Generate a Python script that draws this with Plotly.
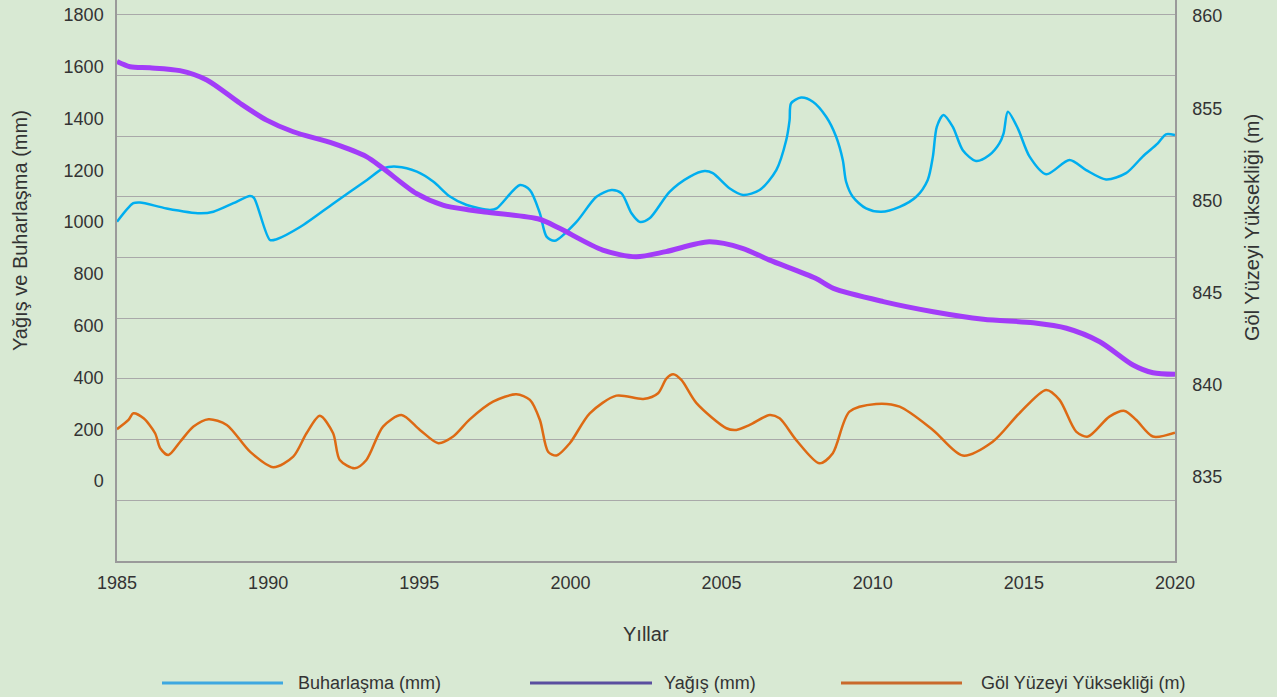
import plotly.graph_objects as go

# ---------------- data ----------------
evap_years = [1985.0, 1985.54, 1985.76, 1986.64, 1987.75, 1988.19, 1988.85, 1989.4, 1989.53,
              1990.06, 1990.28, 1991.07, 1992.17, 1993.27, 1993.82, 1994.26, 1994.92, 1995.47,
              1996.0, 1996.57, 1997.34, 1997.56, 1998.33, 1998.66, 1998.99, 1999.21, 1999.48,
              2000.2, 2000.86, 2001.36, 2001.69, 2002.02, 2002.29, 2002.62, 2003.28, 2003.94,
              2004.44, 2004.71, 2005.26, 2005.71, 2006.26, 2006.81, 2007.14, 2007.25, 2007.3,
              2007.63, 2008.02, 2008.46, 2008.79, 2009.01, 2009.12, 2009.34, 2009.78, 2010.28,
              2010.89, 2011.44, 2011.82, 2011.99, 2012.12, 2012.34, 2012.65, 2012.98, 2013.42,
              2013.86, 2014.19, 2014.33, 2014.47, 2014.8, 2015.19, 2015.74, 2016.51, 2017.06,
              2017.72, 2018.38, 2018.93, 2019.43, 2019.7, 2020.0]
evap_mm = [1001, 1073, 1076, 1053, 1034, 1040, 1073, 1101, 1094,
           931, 934, 982, 1073, 1163, 1208, 1214, 1195, 1156,
           1100, 1066, 1047, 1053, 1143, 1124, 1034, 944, 928,
           1001, 1098, 1124, 1111, 1034, 1001, 1015, 1117, 1175,
           1197, 1189, 1131, 1105, 1124, 1201, 1317, 1394, 1459,
           1481, 1465, 1407, 1330, 1240, 1156, 1098, 1053, 1040,
           1059, 1098, 1163, 1253, 1368, 1414, 1368, 1278, 1236,
           1259, 1304, 1343, 1426, 1362, 1253, 1185, 1240, 1201,
           1165, 1189, 1253, 1304, 1339, 1336]

rain_years = [1985.0, 1985.43, 1986.09, 1987.08, 1987.97, 1989.07, 1989.95, 1990.83, 1992.15,
              1993.25, 1993.8, 1994.9, 1995.78, 1996.66, 1997.1, 1998.98, 1999.64, 2001.07,
              2002.17, 2003.16, 2004.59, 2005.69, 2006.57, 2008.11, 2008.7, 2010.35, 2012.0,
              2013.66, 2015.31, 2016.41, 2017.51, 2018.61, 2019.27, 2020.0]
rain_mm = [1620, 1600, 1596, 1585, 1549, 1459, 1394, 1349, 1304,
           1253, 1208, 1111, 1066, 1047, 1040, 1011, 976, 892,
           866, 886, 924, 899, 854, 783, 744, 693, 654,
           625, 611, 590, 538, 448, 418, 412]

lake_years = [1985.0, 1985.38, 1985.54, 1985.88, 1986.26, 1986.43, 1986.7, 1987.09, 1987.53,
              1988.03, 1988.63, 1989.4, 1990.17, 1990.83, 1991.27, 1991.71, 1992.15, 1992.37,
              1992.87, 1993.25, 1993.8, 1994.41, 1995.02, 1995.63, 1996.12, 1996.67, 1997.44,
              1998.21, 1998.66, 1998.99, 1999.26, 1999.54, 1999.98, 2000.64, 2001.52, 2002.41,
              2002.9, 2003.18, 2003.4, 2003.67, 2004.17, 2005.16, 2005.49, 2005.93, 2006.59,
              2006.92, 2007.47, 2008.24, 2008.68, 2009.23, 2010.11, 2010.89, 2011.99, 2012.98,
              2013.97, 2014.85, 2015.74, 2016.18, 2016.73, 2017.12, 2017.83, 2018.33, 2018.72,
              2019.27, 2020.0]
lake_m = [837.59, 838.09, 838.45, 838.18, 837.37, 836.56, 836.19, 836.91, 837.73,
          838.13, 837.82, 836.37, 835.53, 836.10, 837.37, 838.32, 837.37, 835.92,
          835.47, 835.92, 837.73, 838.36, 837.55, 836.83, 837.19, 838.12, 839.08,
          839.48, 839.18, 838.09, 836.37, 836.16, 836.83, 838.45, 839.41, 839.23,
          839.54, 840.35, 840.57, 840.26, 839.00, 837.64, 837.55, 837.82, 838.36,
          838.18, 837.00, 835.74, 836.29, 838.54, 838.96, 838.81, 837.55, 836.16,
          836.91, 838.45, 839.72, 839.18, 837.46, 837.19, 838.27, 838.58, 838.09,
          837.19, 837.40]

x_ticks = [1985, 1990, 1995, 2000, 2005, 2010, 2015, 2020]
left_ticks = [0, 200, 400, 600, 800, 1000, 1200, 1400, 1600, 1800]
right_ticks = [835, 840, 845, 850, 855, 860]

series_names = ["Buharlaşma (mm)", "Yağış (mm)", "Göl Yüzeyi Yüksekliği (m)"]

# ---------------- styles ----------------
BG = "#d8e9d3"
BLUE = "#00aeef"
PURPLE = "#a23cf8"
ORANGE = "#dd6a14"
LEG_COLORS = ["#3ea8e0", "#5a4e9f", "#c96a2c"]
TXT = "#333333"
FONT = "Liberation Sans, Arial, sans-serif"

fig = go.Figure()

# invisible trace for grid axis
fig.add_trace(go.Scatter(x=[1985], y=[0], yaxis="y3", mode="markers",
                         marker=dict(opacity=0), showlegend=False, hoverinfo="skip"))

fig.add_trace(go.Scatter(x=evap_years, y=evap_mm, name=series_names[0], mode="lines",
                         line=dict(color=BLUE, width=2.5, shape="spline", smoothing=0.8),
                         yaxis="y"))
fig.add_trace(go.Scatter(x=rain_years, y=rain_mm, name=series_names[1], mode="lines",
                         line=dict(color=PURPLE, width=5, shape="spline", smoothing=0.8),
                         yaxis="y"))
fig.add_trace(go.Scatter(x=lake_years, y=lake_m, name=series_names[2], mode="lines",
                         line=dict(color=ORANGE, width=2.5, shape="spline", smoothing=0.8),
                         yaxis="y2"))

W, H = 1277, 697
L, R, T, B = 117, 102, 0, 136
pw = W - L - R
ph = H - T - B


def px_x(p):
    return (p - L) / pw


def px_y(p):
    return (H - B - p) / ph


fig.update_layout(
    width=W, height=H,
    margin=dict(l=L, r=R, t=T, b=B, pad=0),
    paper_bgcolor=BG, plot_bgcolor=BG,
    showlegend=False,
    font=dict(family=FONT, color=TXT, size=18),
    xaxis=dict(range=[1985, 2020], tickvals=x_ticks, ticktext=[str(v) for v in x_ticks],
               showgrid=False, zeroline=False, showline=True, linecolor="#9a9a9a", linewidth=1.5,
               ticks="outside", ticklen=5, tickcolor=BG, tickfont=dict(size=18, color=TXT)),
    yaxis=dict(range=[-309, 1858], tickvals=left_ticks, ticktext=[str(v) for v in left_ticks],
               showgrid=False, zeroline=False, showline=True, linecolor="#9a9a9a", linewidth=1.5,
               ticks="outside", ticklen=8, tickcolor=BG, tickfont=dict(size=18, color=TXT)),
    yaxis2=dict(range=[830.44, 860.87], tickvals=right_ticks, ticktext=[str(v) for v in right_ticks],
                overlaying="y", side="right", anchor="x",
                showgrid=False, zeroline=False, showline=True, linecolor="#9a9a9a", linewidth=1.5,
                ticks="outside", ticklen=12, tickcolor=BG, tickfont=dict(size=18, color=TXT)),
    yaxis3=dict(range=[0, 561 / 60.67], dtick=1, tick0=0, overlaying="y", side="left",
                showticklabels=False, showgrid=True, gridcolor="#a9a9a9", gridwidth=1.2,
                zeroline=False, showline=False, ticks=""),
)

annotations = [
    dict(text="Yağış ve Buharlaşma (mm)", x=px_x(20), y=px_y(231), xref="paper", yref="paper",
         textangle=-90, showarrow=False, font=dict(size=20, color=TXT), xanchor="center", yanchor="middle"),
    dict(text="Göl Yüzeyi Yüksekliği (m)", x=px_x(1252), y=px_y(228), xref="paper", yref="paper",
         textangle=-90, showarrow=False, font=dict(size=20, color=TXT), xanchor="center", yanchor="middle"),
    dict(text="Yıllar", x=px_x(646), y=px_y(634), xref="paper", yref="paper",
         showarrow=False, font=dict(size=20, color=TXT), xanchor="center", yanchor="middle"),
]

# manual legend
leg_lines = [(162, 283), (530, 652), (841, 962)]
leg_text_x = [296, 662, 979]
leg_y = 683
shapes = []
for (x0, x1), tx, name, col in zip(leg_lines, leg_text_x, series_names, LEG_COLORS):
    shapes.append(dict(type="line", xref="paper", yref="paper", x0=px_x(x0), x1=px_x(x1),
                       y0=px_y(leg_y), y1=px_y(leg_y), line=dict(color=col, width=3)))
    annotations.append(dict(text=name, x=px_x(tx), y=px_y(leg_y), xref="paper", yref="paper",
                            showarrow=False, xanchor="left", yanchor="middle",
                            font=dict(size=18, color=TXT, family="Liberation Sans, Arial")))

fig.update_layout(annotations=annotations, shapes=shapes)

fig.write_html("out.html", config={"displayModeBar": False},
               post_script="document.body.style.margin='0';document.body.style.overflow='hidden';")
